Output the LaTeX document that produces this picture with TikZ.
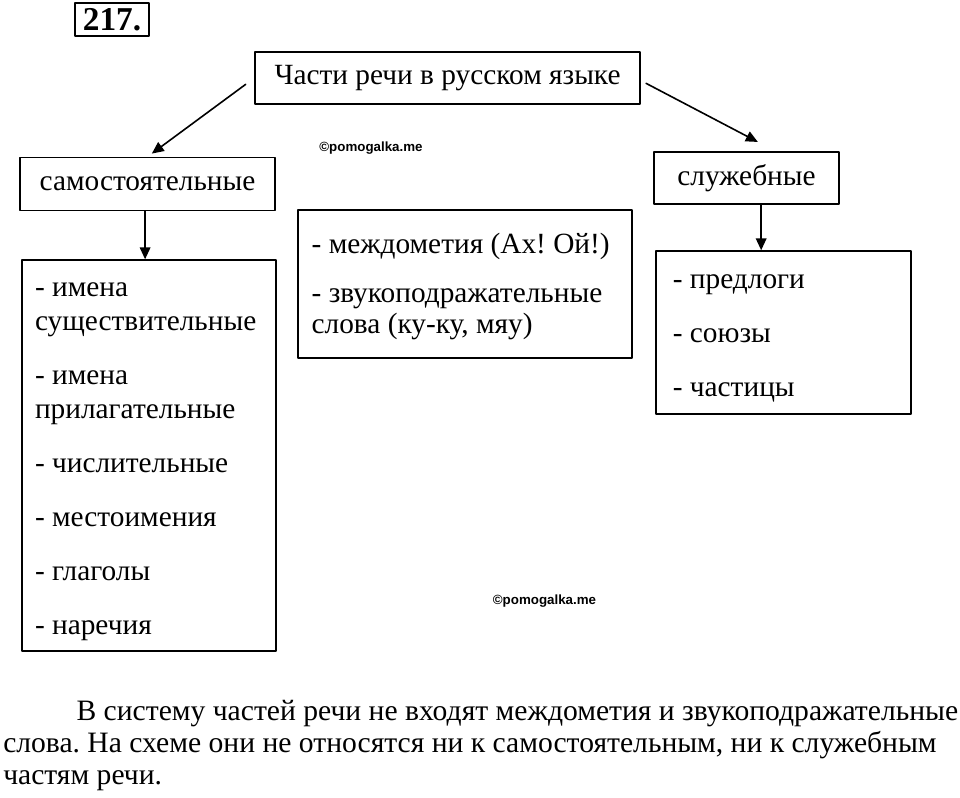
\documentclass[tikz,border=0pt]{standalone}
\usepackage{fontspec}
\setmainfont{Liberation Serif}
\newfontfamily\wmfont{Liberation Sans}
\usetikzlibrary{arrows.meta}
\frenchspacing

\begin{document}
\begin{tikzpicture}[x=0.75pt, y=-0.75pt, line cap=round, line join=round,
  >={Triangle[length=9pt, width=8pt]},
  box/.style={draw, line width=1.1pt, inner sep=0pt, font=\fontsize{22}{25.5}\selectfont},
  lst/.style={box, align=flush left, execute at begin node=\rule{0pt}{19.6pt}},
  link/.style={->, line width=1.2pt},
  wm/.style={font=\wmfont\bfseries\fontsize{10}{12}\selectfont}]
\useasboundingbox (0,0) rectangle (960,797);

\node[box, line width=1.8pt, minimum width=55.5pt, minimum height=24.75pt,
  font=\bfseries\fontsize{25}{27}\selectfont] (num) at (112,19.5) {217.};

\node[box, minimum width=288.75pt, minimum height=39pt] (parts) at (447.5,78) {Части речи в русском языке};

\node[box, minimum width=191.25pt, minimum height=39.75pt] (indep) at (147.5,184) {самостоятельные};
\node[box, minimum width=138.75pt, minimum height=39pt] (aux) at (746.5,178) {служебные};

\node[lst, minimum width=190.5pt, minimum height=293.25pt, text width=171pt] (indeplist) at (149,455.5)
  {- имена\\ существительные\\[15pt] - имена\\ прилагательные\\[15pt] - числительные\\[15pt]
   - местоимения\\[15pt] - глаголы\\[15pt] - наречия};

\node[lst, execute at begin node={}, minimum width=250.5pt, minimum height=111pt, text width=230pt,
  font=\fontsize{22}{23.5}\selectfont] (other) at (465,284)
  {- междометия (Ах! Ой!)\\[13pt] - звукоподражательные\\ слова (ку-ку, мяу)};

\node[lst, minimum width=191.25pt, minimum height=122.25pt, text width=166pt] (auxlist) at (783.5,332.5)
  {- предлоги\\[15pt] - союзы\\[15pt] - частицы};

% arrows
\draw[link, shorten <=8pt, shorten >=4pt] (parts.west) -- (indep.north);
\draw[link] ([xshift=4pt,yshift=-4pt]parts.east) -- ([xshift=8.5pt,yshift=7pt]aux.north);
\draw[link] ([xshift=-1.8pt]indep.south) -- ([xshift=-1.8pt]indep.south |- indeplist.north);
\draw[link] ([xshift=11pt]aux.south) -- ([xshift=11pt]aux.south |- auxlist.north);

\node[wm] (wm1) at (371,148) {©pomogalka.me};
\node[wm] (wm2) at (544.5,601) {©pomogalka.me};

\node[anchor=north west, inner sep=0pt, align=left, font=\fontsize{22.2}{24}\selectfont] (note) at (3,700)
  {\hspace*{55pt}В систему частей речи не входят междометия и звукоподражательные\\
   слова. На схеме они не относятся ни к самостоятельным, ни к служебным\\
   частям речи.};
\end{tikzpicture}
\end{document}
